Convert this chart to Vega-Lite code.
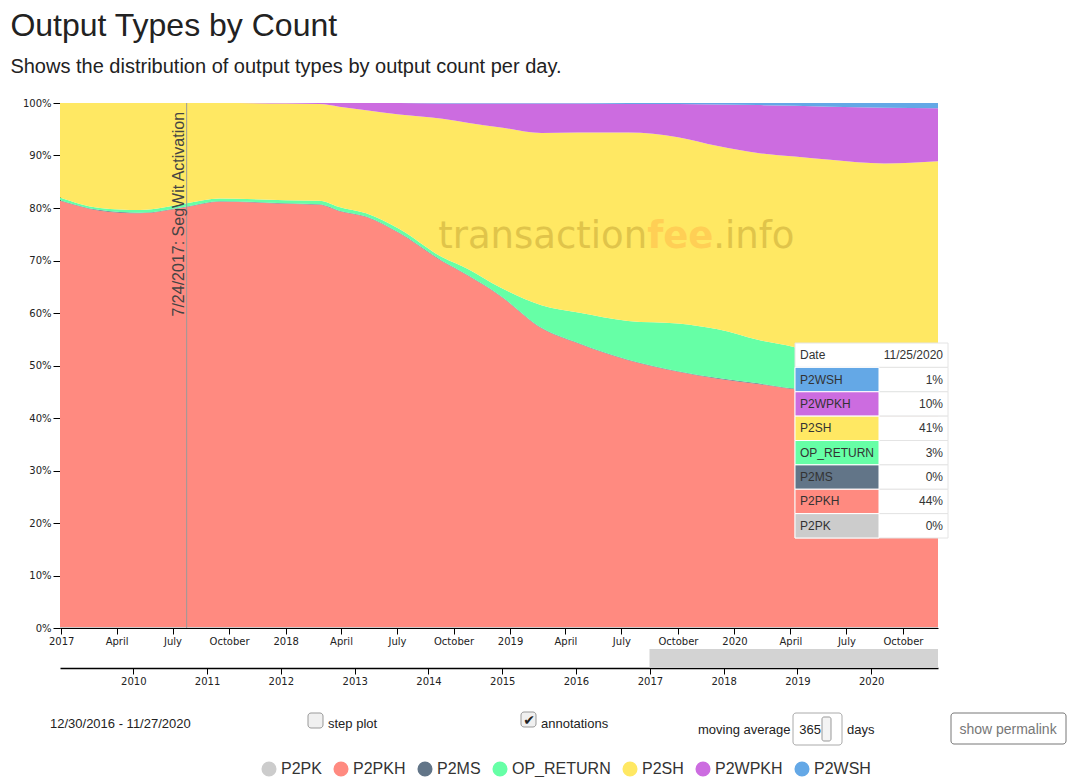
{
  "$schema": "https://vega.github.io/schema/vega-lite/v6.json",
  "padding": {"left": 10, "top": 10, "right": 0, "bottom": 0},
  "title": {
    "text": "Output Types by Count",
    "subtitle": "Shows the distribution of output types by output count per day.",
    "anchor": "start",
    "frame": "bounds",
    "dx": -12,
    "font": "Liberation Sans",
    "fontSize": 32,
    "fontWeight": "normal",
    "color": "#222",
    "subtitleFont": "Liberation Sans",
    "subtitleFontSize": 20,
    "subtitleColor": "#222",
    "subtitlePadding": 14,
    "offset": 20
  },
  "config": {
    "view": {"stroke": null},
    "axis": {
      "labelFont": "DejaVu Sans",
      "labelFontSize": 10,
      "labelColor": "#222",
      "domainColor": "#000",
      "tickColor": "#000",
      "tickSize": 6,
      "labelPadding": 2,
      "grid": false,
      "title": null
    }
  },
  "datasets": {
    "types": [
      {"date": "2016-12-30", "P2PK": 0.2, "P2PKH": 81.2, "P2MS": 0.1, "OP_RETURN": 0.5, "P2SH": 18.0, "P2WPKH": 0, "P2WSH": 0},
      {"date": "2017-03-05", "P2PK": 0.2, "P2PKH": 79.3, "P2MS": 0.1, "OP_RETURN": 0.4, "P2SH": 20.0, "P2WPKH": 0, "P2WSH": 0},
      {"date": "2017-05-09", "P2PK": 0.2, "P2PKH": 78.8, "P2MS": 0.1, "OP_RETURN": 0.5, "P2SH": 20.4, "P2WPKH": 0, "P2WSH": 0},
      {"date": "2017-07-24", "P2PK": 0.2, "P2PKH": 80.0, "P2MS": 0.1, "OP_RETURN": 0.6, "P2SH": 19.1, "P2WPKH": 0, "P2WSH": 0},
      {"date": "2017-09-16", "P2PK": 0.2, "P2PKH": 81.0, "P2MS": 0.1, "OP_RETURN": 0.5, "P2SH": 18.2, "P2WPKH": 0, "P2WSH": 0},
      {"date": "2018-01-01", "P2PK": 0.2, "P2PKH": 80.6, "P2MS": 0.1, "OP_RETURN": 0.6, "P2SH": 18.4, "P2WPKH": 0.1, "P2WSH": 0},
      {"date": "2018-02-25", "P2PK": 0.2, "P2PKH": 80.4, "P2MS": 0.1, "OP_RETURN": 0.7, "P2SH": 18.4, "P2WPKH": 0.2, "P2WSH": 0},
      {"date": "2018-03-29", "P2PK": 0.2, "P2PKH": 79.2, "P2MS": 0.1, "OP_RETURN": 0.7, "P2SH": 19.1, "P2WPKH": 0.7, "P2WSH": 0},
      {"date": "2018-05-12", "P2PK": 0.2, "P2PKH": 78.1, "P2MS": 0.1, "OP_RETURN": 0.6, "P2SH": 19.6, "P2WPKH": 1.4, "P2WSH": 0},
      {"date": "2018-07-05", "P2PK": 0.2, "P2PKH": 75.0, "P2MS": 0.1, "OP_RETURN": 0.7, "P2SH": 21.8, "P2WPKH": 2.2, "P2WSH": 0},
      {"date": "2018-09-13", "P2PK": 0.2, "P2PKH": 69.6, "P2MS": 0.1, "OP_RETURN": 0.7, "P2SH": 26.4, "P2WPKH": 2.9, "P2WSH": 0.1},
      {"date": "2018-10-26", "P2PK": 0.2, "P2PKH": 66.8, "P2MS": 0.1, "OP_RETURN": 1.2, "P2SH": 27.9, "P2WPKH": 3.7, "P2WSH": 0.1},
      {"date": "2018-12-14", "P2PK": 0.2, "P2PKH": 63.2, "P2MS": 0.1, "OP_RETURN": 1.5, "P2SH": 30.4, "P2WPKH": 4.5, "P2WSH": 0.1},
      {"date": "2019-02-21", "P2PK": 0.2, "P2PKH": 56.9, "P2MS": 0.1, "OP_RETURN": 4.3, "P2SH": 32.8, "P2WPKH": 5.6, "P2WSH": 0.1},
      {"date": "2019-04-22", "P2PK": 0.2, "P2PKH": 54.0, "P2MS": 0.1, "OP_RETURN": 5.8, "P2SH": 34.3, "P2WPKH": 5.5, "P2WSH": 0.1},
      {"date": "2019-07-12", "P2PK": 0.2, "P2PKH": 50.8, "P2MS": 0.1, "OP_RETURN": 7.4, "P2SH": 35.9, "P2WPKH": 5.4, "P2WSH": 0.2},
      {"date": "2019-10-01", "P2PK": 0.2, "P2PKH": 48.6, "P2MS": 0.1, "OP_RETURN": 9.1, "P2SH": 35.5, "P2WPKH": 6.3, "P2WSH": 0.2},
      {"date": "2019-12-05", "P2PK": 0.2, "P2PKH": 47.3, "P2MS": 0.1, "OP_RETURN": 9.3, "P2SH": 34.9, "P2WPKH": 7.9, "P2WSH": 0.3},
      {"date": "2020-02-08", "P2PK": 0.2, "P2PKH": 46.3, "P2MS": 0.1, "OP_RETURN": 8.3, "P2SH": 35.6, "P2WPKH": 9.1, "P2WSH": 0.4},
      {"date": "2020-04-08", "P2PK": 0.2, "P2PKH": 45.3, "P2MS": 0.1, "OP_RETURN": 7.9, "P2SH": 36.3, "P2WPKH": 9.7, "P2WSH": 0.5},
      {"date": "2020-06-05", "P2PK": 0.2, "P2PKH": 44.8, "P2MS": 0.1, "OP_RETURN": 6.4, "P2SH": 37.7, "P2WPKH": 10.1, "P2WSH": 0.7},
      {"date": "2020-09-01", "P2PK": 0.2, "P2PKH": 44.2, "P2MS": 0.1, "OP_RETURN": 4.5, "P2SH": 39.5, "P2WPKH": 10.6, "P2WSH": 0.9},
      {"date": "2020-11-27", "P2PK": 0.2, "P2PKH": 43.8, "P2MS": 0.1, "OP_RETURN": 3.4, "P2SH": 41.4, "P2WPKH": 10.1, "P2WSH": 1.0}
    ],
    "annotations": [
      {"date": "2017-07-24", "label": "7/24/2017: SegWit Activation"}
    ],
    "tooltip": [
      {"type": "Date", "value": "11/25/2020"},
      {"type": "P2WSH", "value": "1%"},
      {"type": "P2WPKH", "value": "10%"},
      {"type": "P2SH", "value": "41%"},
      {"type": "OP_RETURN", "value": "3%"},
      {"type": "P2MS", "value": "0%"},
      {"type": "P2PKH", "value": "44%"},
      {"type": "P2PK", "value": "0%"}
    ],
    "brush": [
      {"start": "2016-12-30", "end": "2020-11-27"}
    ],
    "controls": [
      {"range": "12/30/2016 - 11/27/2020", "movingAverage": "365"}
    ]
  },
  "spacing": 3,
  "vconcat": [
    {
      "width": 878,
      "height": 525,
      "layer": [
        {
          "layer": [
            {
              "data": {"name": "types"},
              "transform": [
                {"fold": ["P2PK", "P2PKH", "P2MS", "OP_RETURN", "P2SH", "P2WPKH", "P2WSH"], "as": ["type", "value"]},
                {"calculate": "indexof(['P2PK','P2PKH','P2MS','OP_RETURN','P2SH','P2WPKH','P2WSH'], datum.type)", "as": "rank"}
              ],
              "mark": {"type": "area", "interpolate": "monotone"},
              "encoding": {
                "x": {
                  "field": "date",
                  "type": "temporal",
                  "scale": {"domain": ["2016-12-30", "2020-11-27"]},
                  "axis": {
                    "tickCount": {"interval": "month", "step": 3},
                    "labelExpr": "month(datum.value) == 0 ? timeFormat(datum.value, '%Y') : timeFormat(datum.value, '%B')",
                    "labelFlush": false
                  }
                },
                "y": {
                  "field": "value",
                  "type": "quantitative",
                  "stack": "normalize",
                  "scale": {"domain": [0, 1]},
                  "axis": {"values": [0, 0.1, 0.2, 0.3, 0.4, 0.5, 0.6, 0.7, 0.8, 0.9, 1], "format": ".0%", "tickSize": 7}
                },
                "color": {
                  "field": "type",
                  "type": "nominal",
                  "scale": {
                    "domain": ["P2PK", "P2PKH", "P2MS", "OP_RETURN", "P2SH", "P2WPKH", "P2WSH"],
                    "range": ["#cccccc", "#ff8a80", "#627588", "#66ffa6", "#ffe863", "#cc6ce0", "#64a8e6"]
                  },
                  "legend": {
                    "orient": "none",
                    "legendX": 201,
                    "legendY": 658,
                    "direction": "horizontal",
                    "columns": 7,
                    "title": null,
                    "symbolType": "circle",
                    "symbolSize": 227,
                    "symbolStrokeWidth": 0,
                    "symbolOpacity": 1,
                    "labelFont": "Liberation Sans",
                    "labelFontSize": 16,
                    "labelColor": "#333",
                    "labelOffset": 4,
                    "columnPadding": 11,
                    "padding": 0
                  }
                },
                "order": {"field": "rank", "type": "quantitative"}
              }
            },
            {
              "data": {"name": "annotations"},
              "mark": {"type": "rule", "color": "#999", "strokeWidth": 1},
              "encoding": {"x": {"field": "date", "type": "temporal"}}
            },
            {
              "data": {"name": "annotations"},
              "mark": {"type": "text", "angle": 270, "align": "right", "baseline": "bottom", "font": "Liberation Sans", "fontSize": 16, "color": "#444"},
              "encoding": {
                "x": {"field": "date", "type": "temporal"},
                "y": {"datum": 0.983, "type": "quantitative"},
                "text": {"field": "label"}
              }
            },
            {
              "data": {"name": "annotations"},
              "mark": {"type": "text", "align": "right", "baseline": "alphabetic", "font": "DejaVu Sans", "fontSize": 37, "color": "#e0c44a"},
              "encoding": {
                "x": {"datum": {"year": 2019, "month": 8, "date": 12}, "type": "temporal"},
                "y": {"datum": 0.724, "type": "quantitative"},
                "text": {"value": "transaction"}
              }
            },
            {
              "data": {"name": "annotations"},
              "mark": {"type": "text", "align": "left", "baseline": "alphabetic", "font": "DejaVu Sans", "fontSize": 37, "fontWeight": "bold", "color": "#ffcf55"},
              "encoding": {
                "x": {"datum": {"year": 2019, "month": 8, "date": 12}, "type": "temporal"},
                "y": {"datum": 0.724, "type": "quantitative"},
                "text": {"value": "fee"}
              }
            },
            {
              "data": {"name": "annotations"},
              "mark": {"type": "text", "align": "left", "baseline": "alphabetic", "dx": 66, "font": "DejaVu Sans", "fontSize": 37, "color": "#e0c44a"},
              "encoding": {
                "x": {"datum": {"year": 2019, "month": 8, "date": 12}, "type": "temporal"},
                "y": {"datum": 0.724, "type": "quantitative"},
                "text": {"value": ".info"}
              }
            }
          ]
        },
        {
          "data": {"name": "tooltip"},
          "layer": [
            {
              "mark": {"type": "rect", "fill": "#ffffff", "stroke": "#e4e4e4", "strokeWidth": 1},
              "encoding": {
                "x": {"datum": 0, "type": "quantitative", "scale": {"domain": [0, 1], "range": [735, 888]}, "axis": null},
                "x2": {"datum": 1},
                "y": {
                  "field": "type",
                  "type": "nominal",
                  "sort": null,
                  "scale": {
                    "domain": ["Date", "P2WSH", "P2WPKH", "P2SH", "OP_RETURN", "P2MS", "P2PKH", "P2PK"],
                    "range": [240, 435],
                    "paddingInner": 0,
                    "paddingOuter": 0
                  },
                  "axis": null
                }
              }
            },
            {
              "transform": [{"filter": "datum.type != 'Date'"}],
              "mark": {"type": "rect", "stroke": "#ffffff", "strokeWidth": 1},
              "encoding": {
                "x": {"datum": 0, "type": "quantitative"},
                "x2": {"datum": 0.549},
                "y": {"field": "type", "type": "nominal"},
                "color": {"field": "type", "type": "nominal"}
              }
            },
            {
              "mark": {"type": "text", "align": "left", "dx": 5, "font": "Liberation Sans", "fontSize": 12, "color": "#333"},
              "encoding": {
                "x": {"datum": 0, "type": "quantitative"},
                "y": {"field": "type", "type": "nominal"},
                "text": {"field": "type"}
              }
            },
            {
              "mark": {"type": "text", "align": "right", "dx": -5, "font": "Liberation Sans", "fontSize": 12, "color": "#333"},
              "encoding": {
                "x": {"datum": 1, "type": "quantitative"},
                "y": {"field": "type", "type": "nominal"},
                "text": {"field": "value"}
              }
            }
          ]
        }
      ],
      "resolve": {"scale": {"x": "independent", "y": "independent"}}
    },
    {
      "width": 878,
      "height": 19,
      "data": {"name": "brush"},
      "mark": {"type": "rect", "color": "#d3d3d3"},
      "encoding": {
        "x": {
          "field": "start",
          "type": "temporal",
          "scale": {"domain": ["2009-01-03", "2020-11-27"]},
          "axis": {"format": "%Y", "tickCount": {"interval": "year", "step": 1}, "labelFlush": false, "domainWidth": 1.5}
        },
        "x2": {"field": "end"}
      }
    },
    {
      "width": 878,
      "height": 60,
      "data": {"name": "controls"},
      "layer": [
        {
          "mark": {"type": "text", "align": "left", "baseline": "alphabetic", "font": "Liberation Sans", "fontSize": 13, "color": "#222"},
          "encoding": {
            "x": {"datum": -10, "type": "quantitative", "scale": {"domain": [0, 878], "nice": false, "zero": false}, "axis": null},
            "y": {"datum": 39, "type": "quantitative", "scale": {"domain": [0, 60], "nice": false, "reverse": true}, "axis": null},
            "text": {"field": "range"}
          }
        },
        {
          "mark": {"type": "rect", "fill": "#f0f0f0", "stroke": "#999", "strokeWidth": 1, "cornerRadius": 3},
          "encoding": {
            "x": {"datum": 248, "type": "quantitative"}, "x2": {"datum": 263},
            "y": {"datum": 24, "type": "quantitative"}, "y2": {"datum": 39}
          }
        },
        {
          "mark": {"type": "text", "align": "left", "baseline": "alphabetic", "font": "Liberation Sans", "fontSize": 13, "color": "#222"},
          "encoding": {
            "x": {"datum": 268, "type": "quantitative"},
            "y": {"datum": 39, "type": "quantitative"},
            "text": {"value": "step plot"}
          }
        },
        {
          "mark": {"type": "rect", "fill": "#f0f0f0", "stroke": "#999", "strokeWidth": 1, "cornerRadius": 3},
          "encoding": {
            "x": {"datum": 461, "type": "quantitative"}, "x2": {"datum": 476},
            "y": {"datum": 23, "type": "quantitative"}, "y2": {"datum": 38}
          }
        },
        {
          "mark": {"type": "text", "align": "center", "baseline": "alphabetic", "font": "DejaVu Sans", "fontSize": 14, "fontWeight": "bold", "color": "#222"},
          "encoding": {
            "x": {"datum": 469, "type": "quantitative"},
            "y": {"datum": 36, "type": "quantitative"},
            "text": {"value": "✔"}
          }
        },
        {
          "mark": {"type": "text", "align": "left", "baseline": "alphabetic", "font": "Liberation Sans", "fontSize": 13, "color": "#222"},
          "encoding": {
            "x": {"datum": 481, "type": "quantitative"},
            "y": {"datum": 39, "type": "quantitative"},
            "text": {"value": "annotations"}
          }
        },
        {
          "mark": {"type": "text", "align": "left", "baseline": "alphabetic", "font": "Liberation Sans", "fontSize": 13, "color": "#222"},
          "encoding": {
            "x": {"datum": 638, "type": "quantitative"},
            "y": {"datum": 45, "type": "quantitative"},
            "text": {"value": "moving average"}
          }
        },
        {
          "mark": {"type": "rect", "fill": "#ffffff", "stroke": "#aaa", "strokeWidth": 1, "cornerRadius": 3},
          "encoding": {
            "x": {"datum": 733, "type": "quantitative"}, "x2": {"datum": 782},
            "y": {"datum": 24, "type": "quantitative"}, "y2": {"datum": 56}
          }
        },
        {
          "mark": {"type": "text", "align": "right", "baseline": "alphabetic", "font": "Liberation Sans", "fontSize": 13, "color": "#222"},
          "encoding": {
            "x": {"datum": 761, "type": "quantitative"},
            "y": {"datum": 45, "type": "quantitative"},
            "text": {"field": "movingAverage"}
          }
        },
        {
          "mark": {"type": "rect", "fill": "#f4f4f4", "stroke": "#999", "strokeWidth": 1, "cornerRadius": 2},
          "encoding": {
            "x": {"datum": 762, "type": "quantitative"}, "x2": {"datum": 771},
            "y": {"datum": 28, "type": "quantitative"}, "y2": {"datum": 52}
          }
        },
        {
          "mark": {"type": "text", "align": "left", "baseline": "alphabetic", "font": "Liberation Sans", "fontSize": 13, "color": "#222"},
          "encoding": {
            "x": {"datum": 787, "type": "quantitative"},
            "y": {"datum": 45, "type": "quantitative"},
            "text": {"value": "days"}
          }
        },
        {
          "mark": {"type": "rect", "fill": "#ffffff", "stroke": "#777", "strokeWidth": 1, "cornerRadius": 3},
          "encoding": {
            "x": {"datum": 891, "type": "quantitative"}, "x2": {"datum": 1006},
            "y": {"datum": 24, "type": "quantitative"}, "y2": {"datum": 55}
          }
        },
        {
          "mark": {"type": "text", "align": "center", "baseline": "alphabetic", "font": "Liberation Sans", "fontSize": 14, "color": "#777"},
          "encoding": {
            "x": {"datum": 948, "type": "quantitative"},
            "y": {"datum": 45, "type": "quantitative"},
            "text": {"value": "show permalink"}
          }
        }
      ]
    }
  ]
}
